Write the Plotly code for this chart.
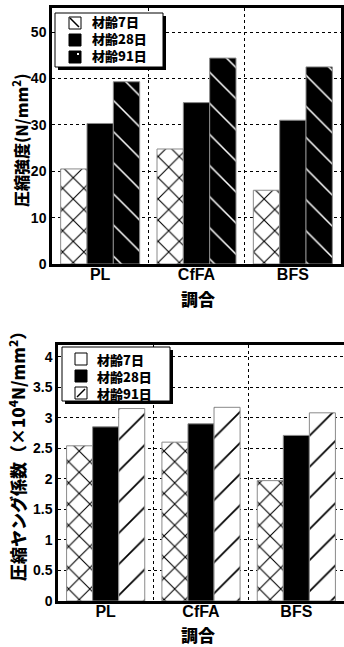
import plotly.graph_objects as go

W, H = 344, 647

categories = ["PL", "CfFA", "BFS"]
series_names = ["材齢7日", "材齢28日", "材齢91日"]

strength_7 = [20.5, 24.8, 15.9]
strength_28 = [30.3, 34.8, 31.0]
strength_91 = [39.3, 44.4, 42.5]

modulus_7 = [2.54, 2.60, 1.97]
modulus_28 = [2.85, 2.90, 2.71]
modulus_91 = [3.15, 3.17, 3.08]

top_title = "圧縮強度(N/mm<sup>2</sup>)"
bottom_title = "圧縮ヤング係数（×10<sup>4</sup>N/mm<sup>2</sup>）"
x_title = "調合"

JP = "Noto Sans CJK JP"
LAT = "Liberation Sans"
OUTLINE = dict(color="#8a8a8a", width=1)


def px_x(p):
    return p / W


def px_y(p):
    return 1 - p / H


def pat(shape, fg, bg, size, sol):
    return dict(shape=shape, fgcolor=fg, bgcolor=bg, size=size, solidity=sol, fillmode="replace")


fig = go.Figure()

top_styles = [
    dict(color="white", pattern=pat("x", "black", "white", 15, 0.14), line=OUTLINE),
    dict(color="black", line=OUTLINE),
    dict(color="black", pattern=pat("\\", "white", "black", 22, 0.07), line=OUTLINE),
]
bottom_styles = [
    dict(color="white", pattern=pat("x", "black", "white", 15, 0.14), line=OUTLINE),
    dict(color="black", line=OUTLINE),
    dict(color="white", pattern=pat("/", "black", "white", 22, 0.08), line=OUTLINE),
]

for name, vals, st in zip(series_names, [strength_7, strength_28, strength_91], top_styles):
    fig.add_trace(go.Bar(x=categories, y=vals, name=name, marker=st,
                         xaxis="x", yaxis="y", showlegend=False))
for name, vals, st in zip(series_names, [modulus_7, modulus_28, modulus_91], bottom_styles):
    fig.add_trace(go.Bar(x=categories, y=vals, name=name, marker=st,
                         xaxis="x2", yaxis="y2", showlegend=False))

axis_common = dict(showline=True, linecolor="black", linewidth=2.5, mirror=True,
                   showgrid=True, gridcolor="black", gridwidth=1, griddash="dot",
                   ticks="", automargin=False, zeroline=False, fixedrange=True)

xcommon = dict(axis_common, tickson="boundaries", ticklabelstandoff=-6,
               tickfont=dict(family=LAT, size=16, color="black", weight="bold"))
ycommon = dict(axis_common, tickfont=dict(family=LAT, size=14, color="black", weight="bold"))

fig.update_layout(
    width=W, height=H,
    margin=dict(l=0, r=0, t=0, b=0),
    paper_bgcolor="white", plot_bgcolor="white",
    barmode="group", bargap=0.18, bargroupgap=0,
    showlegend=False,
    xaxis=dict(xcommon, domain=[px_x(52), px_x(341)], anchor="y"),
    yaxis=dict(ycommon, domain=[px_y(264), px_y(8)], range=[0, 55.2], dtick=10, anchor="x"),
    xaxis2=dict(xcommon, domain=[px_x(58), 1.0], anchor="y2"),
    yaxis2=dict(ycommon, domain=[px_y(601), px_y(345)], range=[0, 4.19], dtick=0.5, anchor="x2"),
)

ann_font = dict(family=JP, size=17, color="black", weight=900)
fig.add_annotation(text=top_title, x=px_x(21), y=px_y(140), xref="paper", yref="paper",
                   showarrow=False, textangle=-90, font=dict(ann_font, size=16),
                   xanchor="center", yanchor="middle")
fig.add_annotation(text=bottom_title, x=px_x(17), y=px_y(452), xref="paper", yref="paper",
                   showarrow=False, textangle=-90, font=ann_font, xanchor="center", yanchor="middle")
fig.add_annotation(text=x_title, x=px_x(198), y=px_y(284), xref="paper", yref="paper",
                   showarrow=False, font=ann_font, xanchor="center", yanchor="top")
fig.add_annotation(text=x_title, x=px_x(198), y=px_y(620), xref="paper", yref="paper",
                   showarrow=False, font=ann_font, xanchor="center", yanchor="top")


# ---- legends (box with drop shadow, symbols, labels) ----
def legend_box(x0, y0, x1, y1):
    fig.add_shape(type="rect", xref="paper", yref="paper",
                  x0=px_x(x0 + 3), x1=px_x(x1 + 3), y0=px_y(y1 + 3), y1=px_y(y0 + 3),
                  fillcolor="black", line=dict(width=0), layer="above")
    fig.add_shape(type="rect", xref="paper", yref="paper",
                  x0=px_x(x0), x1=px_x(x1), y0=px_y(y1), y1=px_y(y0),
                  fillcolor="white", line=dict(color="black", width=1), layer="above")


def symbol(x0, yc, fill, diag=None, dot=False):
    s = 12
    y0, y1 = yc - s / 2, yc + s / 2
    fig.add_shape(type="rect", xref="paper", yref="paper",
                  x0=px_x(x0), x1=px_x(x0 + s), y0=px_y(y1), y1=px_y(y0),
                  fillcolor=fill, line=dict(color="black", width=1), layer="above")
    if diag == "\\":
        fig.add_shape(type="line", xref="paper", yref="paper",
                      x0=px_x(x0 + 1), y0=px_y(y0 + 1), x1=px_x(x0 + s - 2), y1=px_y(y1 - 2),
                      line=dict(color="black", width=1.5), layer="above")
    if diag == "/":
        fig.add_shape(type="line", xref="paper", yref="paper",
                      x0=px_x(x0 + 2), y0=px_y(y1 - 2), x1=px_x(x0 + s - 2), y1=px_y(y0 + 2),
                      line=dict(color="black", width=1.5), layer="above")
    if dot:
        fig.add_shape(type="rect", xref="paper", yref="paper",
                      x0=px_x(x0 + 8), x1=px_x(x0 + 10), y0=px_y(y0 + 4), y1=px_y(y0 + 2),
                      fillcolor="white", line=dict(width=0), layer="above")


def legend_text(x, yc, names):
    fig.add_annotation(text="<br>".join(names), x=px_x(x), y=px_y(yc), xref="paper", yref="paper",
                       showarrow=False, xanchor="left", yanchor="middle", align="left",
                       borderpad=0,
                       font=dict(family=JP, size=13, color="black", weight=900))


# top legend
legend_box(55, 13, 163, 67)
top_rows = [22, 39, 56]
symbol(69, top_rows[0] + 1, "white", diag="\\")
symbol(69, top_rows[1] + 1, "black")
symbol(69, top_rows[2] + 1, "black", dot=True)
legend_text(91, top_rows[1], series_names)

# bottom legend
legend_box(62, 347, 170, 401)
bot_rows = [359, 376, 393]
symbol(75, bot_rows[0], "white")
symbol(75, bot_rows[1], "black")
symbol(75, bot_rows[2], "white", diag="/")
legend_text(96, bot_rows[1], series_names)

fig.write_html(
    "out.html",
    config={"displayModeBar": False},
    post_script="document.body.style.margin='0px';document.body.style.overflow='hidden';",
)
